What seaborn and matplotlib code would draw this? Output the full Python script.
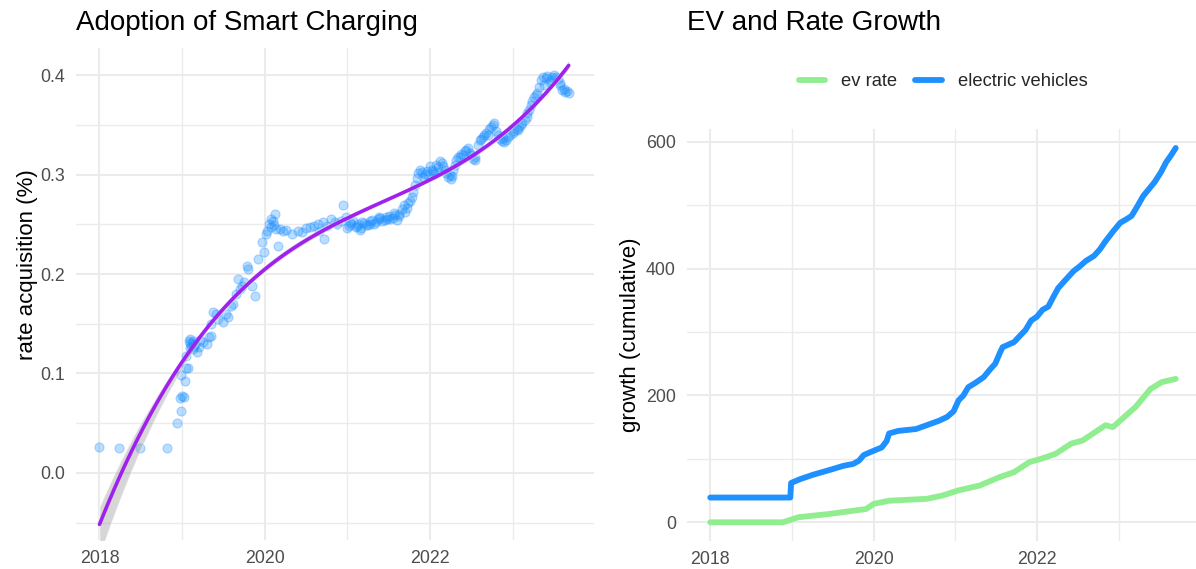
import numpy as np
import pandas as pd
import matplotlib
matplotlib.use("Agg")
import matplotlib.pyplot as plt
import seaborn as sns

# ---------------- data ----------------
# left panel: rate acquisition points (decimal year, value)
rate_year = [
    2018.00, 2018.24, 2018.49, 2018.82, 2018.94, 2018.99, 2018.97, 2019.00, 2019.02, 2019.04,
    2018.99, 2019.05, 2019.07, 2019.05, 2019.08, 2019.09, 2019.11, 2019.13, 2019.15, 2019.12,
    2019.10, 2019.14, 2019.18, 2019.22, 2019.30, 2019.32, 2019.35, 2019.35, 2019.38, 2019.41,
    2019.50, 2019.56, 2019.59, 2019.62, 2019.65, 2019.68, 2019.72, 2019.78, 2019.80, 2019.84,
    2019.88, 2019.92, 2019.97, 2019.99, 2020.03, 2020.05, 2020.08, 2020.10, 2020.12, 2020.14,
    2020.16, 2020.19, 2020.22, 2020.33, 2020.45, 2020.50, 2020.55, 2020.64, 2020.66, 2020.72,
    2020.80, 2020.85, 2020.95, 2020.98, 2021.00, 2021.05, 2021.10, 2021.15, 2021.20, 2021.25,
    2021.30, 2021.35, 2021.40, 2021.45, 2021.50, 2021.55, 2021.60, 2021.63, 2021.68, 2021.72,
    2021.76, 2021.80, 2021.84, 2021.86, 2021.90, 2021.94, 2021.98, 2022.02, 2022.05, 2022.10,
    2022.14, 2022.18, 2022.22, 2022.25, 2022.28, 2022.32, 2022.36, 2022.40, 2022.44, 2022.48,
    2022.52, 2022.55, 2022.60, 2022.64, 2022.68, 2022.72, 2022.76, 2022.80, 2022.85, 2022.90,
    2022.95, 2023.00, 2023.05, 2023.10, 2023.15, 2023.18, 2023.22, 2023.26, 2023.30, 2023.35,
    2023.40, 2023.45, 2023.50, 2023.55, 2023.60, 2023.64, 2023.68,
    2021.03, 2021.12, 2021.18, 2021.28, 2021.38, 2021.48, 2021.58, 2022.08, 2022.30, 2022.58,
    2022.66, 2022.88, 2023.08, 2023.20, 2023.38, 2023.48, 2023.58,
    2021.02, 2021.07, 2021.13, 2021.17, 2021.22, 2021.27, 2021.32, 2021.37, 2021.42, 2021.47,
    2021.52, 2021.57, 2021.62, 2021.66, 2021.70, 2021.74, 2021.78, 2021.82, 2021.88, 2021.92,
    2021.96, 2022.00, 2022.04, 2022.07, 2022.12, 2022.16, 2022.20, 2022.24, 2022.27, 2022.34,
    2022.38, 2022.42, 2022.46, 2022.50, 2022.54, 2022.62, 2022.70, 2022.74, 2022.78, 2022.82,
    2022.87, 2022.92, 2022.97, 2023.02, 2023.07, 2023.12, 2023.17, 2023.24, 2023.28, 2023.32,
    2023.37, 2023.42, 2023.47, 2023.52, 2023.57, 2023.62, 2023.66,
    2020.02, 2020.07, 2020.11, 2020.26, 2020.40, 2020.60, 2020.70, 2020.75, 2020.88, 2020.92,
    2019.10, 2019.13, 2019.16, 2019.20, 2019.25, 2019.44, 2019.53, 2019.70, 2019.75,
]
rate_value = [
    0.026, 0.025, 0.025, 0.025, 0.050, 0.062, 0.075, 0.077, 0.076, 0.092,
    0.098, 0.106, 0.106, 0.118, 0.133, 0.131, 0.128, 0.125, 0.127, 0.131,
    0.135, 0.129, 0.122, 0.134, 0.130, 0.137, 0.138, 0.150, 0.162, 0.160,
    0.152, 0.157, 0.168, 0.170, 0.180, 0.195, 0.188, 0.208, 0.205, 0.188,
    0.178, 0.215, 0.232, 0.222, 0.243, 0.250, 0.247, 0.253, 0.260, 0.245,
    0.228, 0.245, 0.243, 0.240, 0.242, 0.246, 0.247, 0.250, 0.243, 0.235,
    0.255, 0.252, 0.270, 0.257, 0.246, 0.250, 0.247, 0.244, 0.251, 0.249,
    0.254, 0.252, 0.256, 0.254, 0.258, 0.256, 0.254, 0.260, 0.270, 0.266,
    0.274, 0.283, 0.297, 0.302, 0.303, 0.301, 0.300, 0.305, 0.301, 0.308,
    0.312, 0.305, 0.298, 0.296, 0.305, 0.315, 0.318, 0.320, 0.325, 0.322,
    0.316, 0.315, 0.335, 0.338, 0.342, 0.346, 0.350, 0.344, 0.336, 0.333,
    0.338, 0.342, 0.346, 0.350, 0.355, 0.362, 0.370, 0.378, 0.382, 0.395,
    0.397, 0.393, 0.400, 0.396, 0.385, 0.383, 0.382,
    0.252, 0.248, 0.252, 0.250, 0.257, 0.255, 0.259, 0.303, 0.310, 0.330,
    0.340, 0.337, 0.348, 0.365, 0.390, 0.398, 0.390,
    0.248, 0.253, 0.250, 0.246, 0.249, 0.253, 0.250, 0.255, 0.253, 0.257,
    0.255, 0.261, 0.258, 0.265, 0.262, 0.272, 0.278, 0.290, 0.305, 0.298,
    0.304, 0.309, 0.304, 0.310, 0.314, 0.309, 0.302, 0.300, 0.299, 0.318,
    0.321, 0.324, 0.327, 0.320, 0.318, 0.336, 0.340, 0.348, 0.352, 0.340,
    0.334, 0.335, 0.340, 0.344, 0.345, 0.352, 0.358, 0.374, 0.380, 0.388,
    0.398, 0.399, 0.395, 0.398, 0.392, 0.386, 0.384,
    0.240, 0.255, 0.249, 0.244, 0.243, 0.248, 0.252, 0.248, 0.250, 0.253,
    0.126, 0.133, 0.130, 0.127, 0.132, 0.155, 0.160, 0.185, 0.192,
]

# right panel: cumulative growth
ev_year = [
    2018.00, 2018.98, 2018.99, 2019.10, 2019.26, 2019.45, 2019.63, 2019.75, 2019.82, 2019.88,
    2019.95, 2020.10, 2020.16, 2020.19, 2020.30, 2020.52, 2020.65, 2020.80, 2020.90, 2020.98,
    2021.04, 2021.10, 2021.16, 2021.25, 2021.35, 2021.42, 2021.49, 2021.55, 2021.58, 2021.72,
    2021.80, 2021.86, 2021.93, 2022.00, 2022.07, 2022.14, 2022.20, 2022.26, 2022.35, 2022.45,
    2022.53, 2022.60, 2022.70, 2022.77, 2022.84, 2022.93, 2023.02, 2023.10, 2023.16, 2023.23,
    2023.30, 2023.37, 2023.44, 2023.52, 2023.58, 2023.64, 2023.70,
]
ev_total = [
    39, 39, 62, 68, 75, 82, 89, 92, 97, 106,
    110, 118, 128, 140, 144, 147, 153, 160, 166, 175,
    192, 200, 213, 220, 229, 240, 250, 268, 276, 284,
    295, 303, 318, 324, 335, 340, 355, 369, 382, 396,
    404, 412, 420, 430, 443, 458, 472, 478, 483, 498,
    514, 525, 536, 552, 567, 578, 590,
]
evrate_year = [
    2018.00, 2018.89, 2019.08, 2019.45, 2019.91, 2020.00, 2020.19, 2020.65, 2020.84, 2021.03,
    2021.30, 2021.54, 2021.72, 2021.91, 2022.05, 2022.23, 2022.42, 2022.56, 2022.84, 2022.93,
    2023.07, 2023.21, 2023.39, 2023.53, 2023.70,
]
evrate_total = [
    0, 0, 8, 13, 21, 29, 34, 37, 42, 50,
    58, 71, 79, 95, 100, 108, 124, 129, 153, 150,
    166, 182, 210, 221, 226,
]

year_ticks = [2018, 2020, 2022]
year_labels = ["2018", "2020", "2022"]
rate_ticks = [0.0, 0.1, 0.2, 0.3, 0.4]
rate_labels = ["0.0", "0.1", "0.2", "0.3", "0.4"]
growth_ticks = [0, 200, 400, 600]
growth_labels = ["0", "200", "400", "600"]

# ---------------- style ----------------
sns.set_theme(style="white")
plt.rcParams['font.family'] = ['Liberation Sans', 'DejaVu Sans']

GRID = '#EBEBEB'
TICK = '#4D4D4D'
BLUE = '#1E90FF'
GREEN = '#90EE90'
PURPLE = '#A020F0'


def estilo_eixo(ax, yticks, ylabels, yminor):
    ax.set_xlim(2017.715, 2023.985)
    ax.set_xticks(year_ticks, labels=year_labels)
    ax.set_xticks([2019, 2021, 2023], minor=True)
    ax.set_yticks(yticks, labels=ylabels)
    ax.set_yticks(yminor, minor=True)
    ax.grid(which='major', color=GRID, lw=1.5)
    ax.grid(which='minor', color=GRID, lw=1.0)
    ax.set_axisbelow(True)
    for s in ax.spines.values():
        s.set_visible(False)
    ax.tick_params(which='both', length=0, labelsize=12.8, labelcolor=TICK)
    ax.tick_params(axis='x', pad=7)
    ax.tick_params(axis='y', pad=8)
    ax.set_xlabel('')


fig = plt.figure(figsize=(11.96, 5.69), dpi=100)
ax1 = fig.add_axes([0.0635, 0.0510, 0.4331, 0.8647])
ax2 = fig.add_axes([0.5744, 0.0492, 0.4281, 0.7236])

# ---------------- left: adoption ----------------
x_rate = np.array(rate_year)
y_rate = np.array(rate_value)
sns.scatterplot(x=x_rate, y=y_rate, ax=ax1, color=BLUE, alpha=0.3, s=42,
                edgecolor=BLUE, linewidth=0.9, zorder=3)
sns.regplot(x=x_rate, y=y_rate, order=3, scatter=False, ax=ax1, color=PURPLE,
            ci=60, n_boot=500, seed=3, line_kws=dict(lw=2.6, zorder=5))
for coll in ax1.collections[1:]:
    coll.set_facecolor('#999999')
    coll.set_alpha(0.4)
    coll.set_zorder(4)

ax1.set_ylim(-0.0675, 0.4275)
estilo_eixo(ax1, rate_ticks, rate_labels, [-0.05, 0.05, 0.15, 0.25, 0.35])
ax1.set_ylabel('rate acquisition (%)', fontsize=16, color='black')
ax1.yaxis.set_label_coords(-0.073, 0.559)

# ---------------- right: cumulative growth ----------------
df = pd.concat([
    pd.DataFrame({'year': evrate_year, 'growth': evrate_total, 'serie': 'ev rate'}),
    pd.DataFrame({'year': ev_year, 'growth': ev_total, 'serie': 'electric vehicles'}),
])
sns.lineplot(data=df, x='year', y='growth', hue='serie',
             hue_order=['ev rate', 'electric vehicles'],
             palette={'ev rate': GREEN, 'electric vehicles': BLUE},
             estimator=None, sort=False, lw=4.2, ax=ax2)
ax2.set_ylim(-29.5, 619.5)
estilo_eixo(ax2, growth_ticks, growth_labels, [100, 300, 500])
ax2.set_ylabel('growth (cumulative)', fontsize=16, color='black')
ax2.yaxis.set_label_coords(-0.09, 0.5)

sns.move_legend(ax2, 'center', bbox_to_anchor=(0.5, 1.115), ncol=2, title=None,
                frameon=False, fontsize=13.2, handlelength=1.45,
                handletextpad=0.86, columnspacing=0.98)
for line in ax2.get_legend().get_lines():
    line.set_linewidth(4.2)

# titles
fig.text(76 / 1196, 1 - 30 / 569, 'Adoption of Smart Charging', fontsize=20,
         ha='left', va='baseline', color='black')
fig.text(687 / 1196, 1 - 30 / 569, 'EV and Rate Growth', fontsize=20,
         ha='left', va='baseline', color='black')

fig.savefig('out.png', dpi=100)
